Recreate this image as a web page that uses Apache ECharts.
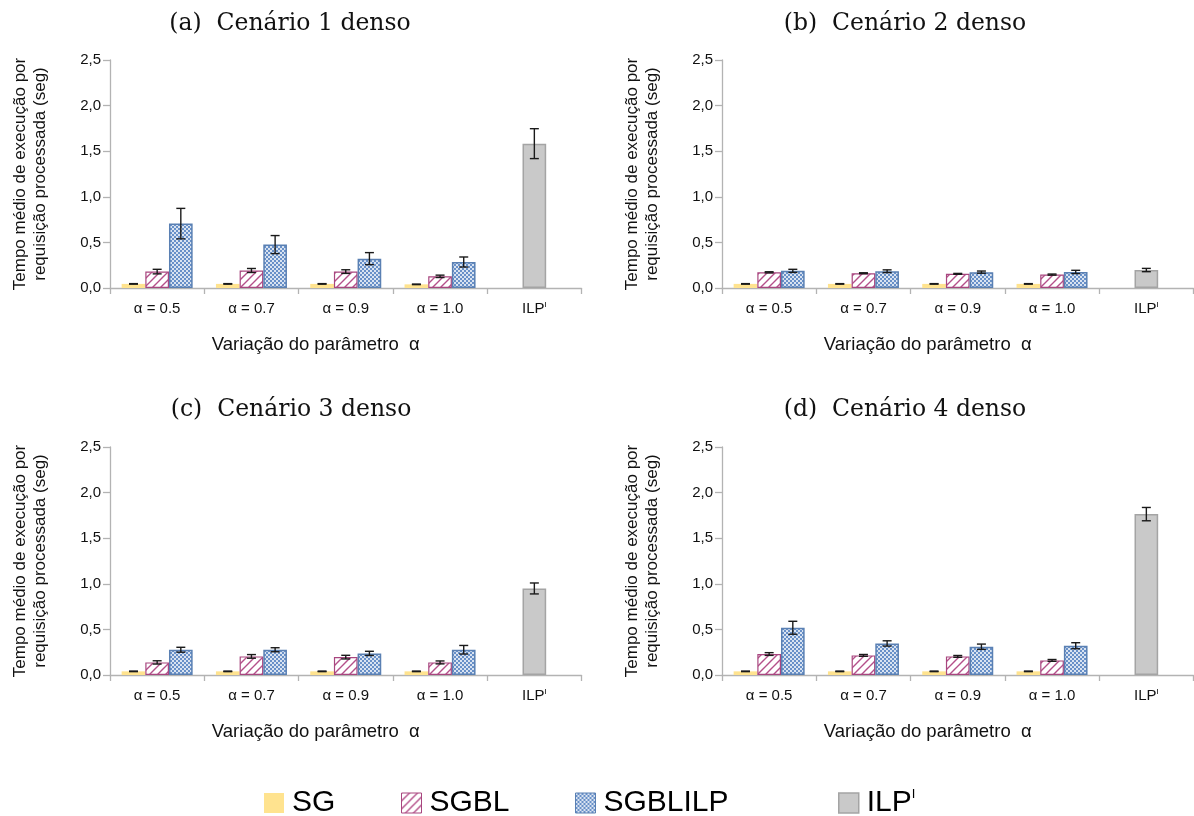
<!DOCTYPE html>
<html>
<head>
<meta charset="utf-8">
<script src="https://cdn.jsdelivr.net/npm/echarts@6/dist/echarts.min.js"></script>
<style>
html,body{margin:0;padding:0;background:#fff;}
#chart{width:1194px;height:816px;}
</style>
</head>
<body>
<div id="chart"></div>
<script>
// ---- data ----
const categories = ['α = 0.5', 'α = 0.7', 'α = 0.9', 'α = 1.0', 'ILP'];
const seriesNames = ['SG', 'SGBL', 'SGBLILP', 'ILP'];
const panelTitles = ['(a)  Cenário 1 denso', '(b)  Cenário 2 denso', '(c)  Cenário 3 denso', '(d)  Cenário 4 denso'];
const yTicks = [0, 0.5, 1.0, 1.5, 2.0, 2.5];

// Panel (a)
const sgA = [0.045, 0.045, 0.045, 0.040];
const sgblA = [0.180, 0.192, 0.180, 0.128];
const sgblilpA = [0.706, 0.476, 0.322, 0.285];
const ilpA = 1.583;
const sgErrA = [0.003, 0.003, 0.003, 0.003];
const sgblErrA = [0.025, 0.022, 0.020, 0.013];
const sgblilpErrA = [0.167, 0.099, 0.066, 0.055];
const ilpErrA = 0.164;

// Panel (b)
const sgB = [0.045, 0.045, 0.045, 0.045];
const sgblB = [0.172, 0.162, 0.155, 0.147];
const sgblilpB = [0.188, 0.184, 0.174, 0.176];
const ilpB = 0.197;
const sgErrB = [0.003, 0.003, 0.003, 0.003];
const sgblErrB = [0.006, 0.005, 0.005, 0.006];
const sgblilpErrB = [0.017, 0.015, 0.012, 0.018];
const ilpErrB = 0.018;

// Panel (c)
const sgC = [0.040, 0.040, 0.040, 0.040];
const sgblC = [0.138, 0.204, 0.196, 0.138];
const sgblilpC = [0.277, 0.277, 0.237, 0.277];
const ilpC = 0.949;
const sgErrC = [0.003, 0.003, 0.003, 0.003];
const sgblErrC = [0.018, 0.020, 0.020, 0.016];
const sgblilpErrC = [0.027, 0.022, 0.023, 0.047];
const ilpErrC = 0.060;

// Panel (d)
const sgD = [0.040, 0.040, 0.040, 0.040];
const sgblD = [0.230, 0.215, 0.204, 0.160];
const sgblilpD = [0.518, 0.346, 0.310, 0.321];
const ilpD = 1.764;
const sgErrD = [0.003, 0.003, 0.003, 0.003];
const sgblErrD = [0.015, 0.010, 0.010, 0.010];
const sgblilpErrD = [0.071, 0.029, 0.029, 0.033];
const ilpErrD = 0.073;

const panels = [
  {sg: sgA, sgbl: sgblA, sgblilp: sgblilpA, ilp: ilpA, sgErr: sgErrA, sgblErr: sgblErrA, sgblilpErr: sgblilpErrA, ilpErr: ilpErrA},
  {sg: sgB, sgbl: sgblB, sgblilp: sgblilpB, ilp: ilpB, sgErr: sgErrB, sgblErr: sgblErrB, sgblilpErr: sgblilpErrB, ilpErr: ilpErrB},
  {sg: sgC, sgbl: sgblC, sgblilp: sgblilpC, ilp: ilpC, sgErr: sgErrC, sgblErr: sgblErrC, sgblilpErr: sgblilpErrC, ilpErr: ilpErrC},
  {sg: sgD, sgbl: sgblD, sgblilp: sgblilpD, ilp: ilpD, sgErr: sgErrD, sgblErr: sgblErrD, sgblilpErr: sgblilpErrD, ilpErr: ilpErrD}
];

// ---- styles ----
const FONT = 'Liberation Sans';
const AXIS_COLOR = '#b3b3b3';
const GAP = 0.247;

function stripeTile() {
  const c = document.createElement('canvas');
  c.width = 8; c.height = 8;
  const g = c.getContext('2d');
  g.fillStyle = '#ffffff'; g.fillRect(0, 0, 8, 8);
  g.strokeStyle = '#b4508a'; g.lineWidth = 1.4;
  g.beginPath();
  g.moveTo(-1, 9); g.lineTo(9, -1);
  g.moveTo(-1, 1); g.lineTo(1, -1);
  g.moveTo(7, 9); g.lineTo(9, 7);
  g.stroke();
  return c;
}
function checkTile() {
  const c = document.createElement('canvas');
  c.width = 4; c.height = 4;
  const g = c.getContext('2d');
  g.fillStyle = '#6890c8'; g.fillRect(0, 0, 4, 4);
  g.fillStyle = '#ffffff';
  g.beginPath(); g.arc(1, 1, 1.0, 0, Math.PI * 2); g.fill();
  g.beginPath(); g.arc(3, 3, 1.0, 0, Math.PI * 2); g.fill();
  return c;
}
const stripePattern = {image: stripeTile(), repeat: 'repeat'};
const checkPattern = {image: checkTile(), repeat: 'repeat'};

const seriesStyles = {
  SG: {color: '#ffe38f', borderWidth: 0},
  SGBL: {color: stripePattern, borderColor: '#a8467f', borderWidth: 1.2},
  SGBLILP: {color: checkPattern, borderColor: '#5a80b3', borderWidth: 1.5},
  ILP: {color: '#c9c9c9', borderColor: '#a4a4a4', borderWidth: 1.5}
};

const gridPos = [
  {left: 110, top: 60},
  {left: 722, top: 60},
  {left: 110, top: 447},
  {left: 722, top: 447}
];
const titlePos = [
  {x: 290, y: 12},
  {x: 905, y: 12},
  {x: 291, y: 398},
  {x: 905, y: 398}
];
const legendPos = [264, 401, 575, 838];

const grids = [], xAxes = [], yAxes = [], series = [], titles = [];

function ilpRich(base) {
  return {s: {fontSize: Math.round(base * 0.5), verticalAlign: 'top', fontFamily: FONT, color: '#000', lineHeight: base}};
}

panels.forEach((p, k) => {
  grids.push({left: gridPos[k].left, top: gridPos[k].top, width: 471.5, height: 228, containLabel: false});
  titles.push({
    text: panelTitles[k], left: titlePos[k].x, top: titlePos[k].y, textAlign: 'center', padding: 0,
    textStyle: {fontFamily: 'DejaVu Serif', fontSize: 23.5, fontWeight: 'normal', color: '#111'}
  });
  xAxes.push({
    type: 'category', gridIndex: k, data: categories,
    axisLine: {lineStyle: {color: AXIS_COLOR, width: 1.3}},
    axisTick: {show: true, length: 6, lineStyle: {color: AXIS_COLOR, width: 1.3}},
    axisLabel: {
      margin: 13, fontSize: 15, fontFamily: FONT, color: '#111',
      formatter: v => v === 'ILP' ? 'ILP{s|I}' : v,
      rich: ilpRich(15)
    },
    name: 'Variação do parâmetro  α', nameLocation: 'middle', nameGap: 47,
    nameTextStyle: {fontSize: 18.5, fontFamily: FONT, color: '#111', padding: [0, 60, 0, 0]}
  });
  yAxes.push({
    type: 'value', gridIndex: k, min: 0, max: 2.5, interval: 0.5,
    splitLine: {show: false},
    axisLine: {show: true, lineStyle: {color: AXIS_COLOR, width: 1.3}},
    axisTick: {show: true, length: 7, lineStyle: {color: AXIS_COLOR, width: 1.3}},
    axisLabel: {margin: 9, fontSize: 15, fontFamily: FONT, color: '#111',
      formatter: v => v.toFixed(1).replace('.', ',')},
    name: 'Tempo médio de execução por\nrequisição processada (seg)',
    nameLocation: 'middle', nameGap: 60,
    nameTextStyle: {fontSize: 17, fontFamily: FONT, color: '#111', lineHeight: 20}
  });

  const padNull = arr => arr.concat(['-']);
  const common = {type: 'bar', xAxisIndex: k, yAxisIndex: k, barGap: '0%', barCategoryGap: (GAP * 100) + '%', emphasis: {disabled: true}};
  series.push(Object.assign({}, common, {name: 'SG', data: padNull(p.sg), itemStyle: seriesStyles.SG}));
  series.push(Object.assign({}, common, {name: 'SGBL', stack: 'mid' + k, data: padNull(p.sgbl), itemStyle: seriesStyles.SGBL}));
  series.push(Object.assign({}, common, {name: 'SGBLILP', data: padNull(p.sgblilp), itemStyle: seriesStyles.SGBLILP}));
  series.push(Object.assign({}, common, {name: 'ILP', stack: 'mid' + k, data: ['-', '-', '-', '-', p.ilp], itemStyle: seriesStyles.ILP}));

  const errData = [];
  for (let i = 0; i < 4; i++) {
    errData.push([i, p.sg[i], p.sgErr[i], -1]);
    errData.push([i, p.sgbl[i], p.sgblErr[i], 0]);
    errData.push([i, p.sgblilp[i], p.sgblilpErr[i], 1]);
  }
  errData.push([4, p.ilp, p.ilpErr, 0]);
  series.push({
    type: 'custom', name: 'err' + k, xAxisIndex: k, yAxisIndex: k, z: 10,
    data: errData, encode: {x: 0, y: 1}, silent: true,
    renderItem: function (params, api) {
      const cat = api.value(0), v = api.value(1), e = api.value(2), slot = api.value(3);
      const catW = api.size([1, 0])[0];
      const barW = catW * (1 - GAP) / 3;
      const x = api.coord([cat, 0])[0] + slot * barW;
      const yT = api.coord([cat, v + e])[1];
      const yB = api.coord([cat, v - e])[1];
      const h = 4.5;
      const st = {stroke: '#1a1a1a', lineWidth: 1.4};
      return {type: 'group', children: [
        {type: 'line', shape: {x1: x, y1: yT, x2: x, y2: yB}, style: st},
        {type: 'line', shape: {x1: x - h, y1: yT, x2: x + h, y2: yT}, style: st},
        {type: 'line', shape: {x1: x - h, y1: yB, x2: x + h, y2: yB}, style: st}
      ]};
    }
  });
});

const legends = seriesNames.map((n, i) => ({
  data: [n], left: legendPos[i], top: 788, icon: 'rect',
  itemWidth: 20, itemHeight: 20, itemGap: 0, padding: 0,
  selectedMode: false,
  itemStyle: {borderWidth: n === 'ILP' ? 1.5 : (n === 'SG' ? 0 : 1)},
  textStyle: {fontSize: 30, fontFamily: FONT, color: '#000', padding: [0, 0, 0, 3],
    rich: {s: {fontSize: 13, verticalAlign: 'top', fontFamily: FONT, color: '#000', lineHeight: 30}}},
  formatter: v => v === 'ILP' ? 'ILP{s|I}' : v
}));

const chart = echarts.init(document.getElementById('chart'), null, {renderer: 'canvas'});
chart.setOption({
  animation: false,
  backgroundColor: '#ffffff',
  title: titles,
  grid: grids,
  xAxis: xAxes,
  yAxis: yAxes,
  legend: legends,
  series: series
});
</script>
</body>
</html>
